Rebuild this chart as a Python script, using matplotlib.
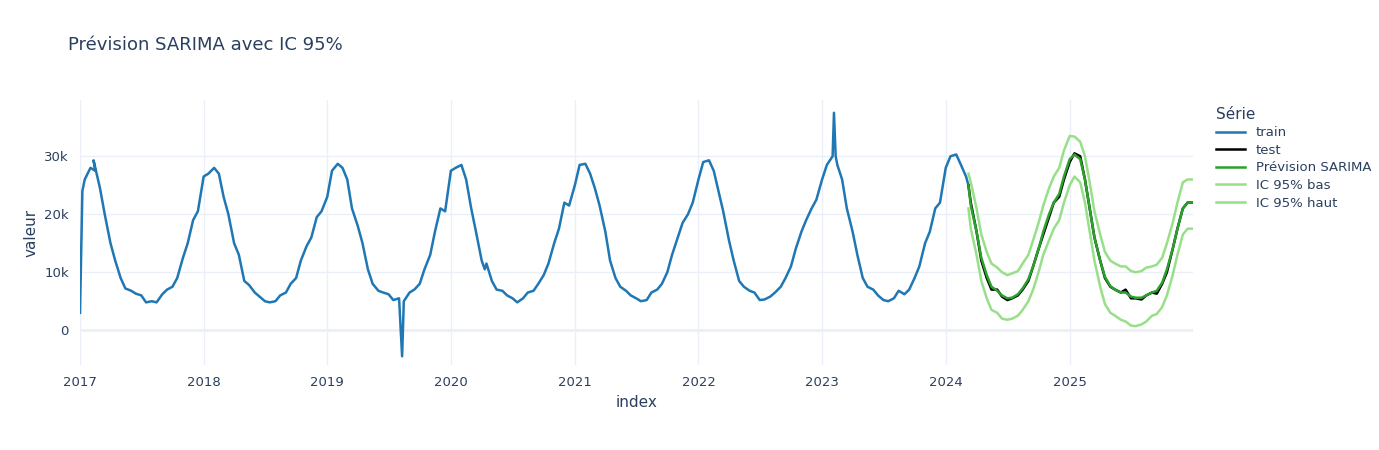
import matplotlib
matplotlib.use("Agg")
import matplotlib.pyplot as plt
import matplotlib.dates as mdates
import pandas as pd
from matplotlib.ticker import FuncFormatter

semi = ["01-01","01-15","02-01","02-15","03-01","03-15","04-01","04-15","05-01","05-15","06-01","06-15",
        "07-01","07-15","08-01","08-15","09-01","09-15","10-01","10-15","11-01","11-15","12-01","12-15"]

train_dates = (["2017-01-01","2017-01-08"] + ["2017-"+d for d in semi[1:4]] + ["2017-02-10"] + ["2017-"+d for d in semi[4:]]
    + ["2018-"+d for d in semi]
    + ["2019-"+d for d in semi[:15]] + ["2019-08-10"] + ["2019-"+d for d in semi[15:]]
    + ["2020-"+d for d in semi[:7]] + ["2020-04-10"] + ["2020-"+d for d in semi[7:]]
    + ["2021-"+d for d in semi]
    + ["2022-"+d for d in semi]
    + ["2023-"+d for d in semi[:2]] + ["2023-02-01","2023-02-05","2023-02-10"] + ["2023-"+d for d in semi[3:]]
    + ["2024-"+d for d in semi[:5]] + ["2024-03-08"])
train_vals = ([3000,24000,26000,28000,27500,29300,24500,20000,15000,12000,9000,7200,6800,6300,6000,4800,5000,4800,6200,7000,7500,9000,12500,15000,19000,20500]
    + [26500,27000,28000,27000,23000,20000,15000,13000,8500,7800,6500,5800,5000,4800,5000,6000,6500,8000,9000,12000,14500,16000,19500,20500]
    + [23000,27500,28700,28000,26000,21000,18000,15000,10500,8000,6800,6500,6200,5200,5500,-4500,5000,6500,7000,8000,10500,13000,17000,21000,20500]
    + [27500,28000,28500,26000,21000,17000,12000,10500,11500,8500,7000,6800,6000,5500,4800,5500,6500,6800,8000,9500,11500,15000,17500,22000,21500]
    + [25000,28500,28700,27000,24500,21500,17000,12000,9000,7500,6800,6000,5500,5000,5200,6500,7000,8000,10000,13000,16000,18500,20000,22000]
    + [26000,29000,29300,27500,24000,20500,15500,12000,8500,7500,6800,6500,5200,5300,5800,6500,7500,9000,11000,14000,17000,19000,21000,22500]
    + [26000,28500,30000,37500,30000,28500,26000,21000,17000,13000,9000,7500,7000,6000,5200,5000,5500,6800,6200,7000,9000,11000,15000,17000,21000,22000]
    + [28000,30000,30300,28500,26500,25000])

test_dates = (["2024-03-08"] + ["2024-"+d for d in semi[5:]] + ["2025-"+d for d in semi] + ["2025-12-31"])
test_vals = [25000,22000,17000,12000,9000,7000,7000,5800,5200,5500,6000,7000,8500,11000,14000,16500,19500,22000,23000,
             26000,29000,30500,30000,26000,21000,16000,12000,9000,7500,7000,6500,7000,5500,5500,5300,6000,6500,6300,8000,10000,14000,17500,21000,22000,22000]
fc_vals = [25000,21500,17000,12500,9500,7500,6800,6000,5500,5600,6200,7200,8800,11000,14000,17000,20000,22000,23500,
           26500,29500,30300,29500,26000,21000,16000,12000,9200,7600,7000,6500,6500,5800,5600,5600,6000,6500,6800,8200,10500,14000,17500,21000,22000,22000]
lo_vals = [21000,17500,13000,8500,5500,3500,3000,2000,1800,2000,2500,3500,5000,7000,10000,13000,15500,17500,19000,
           22000,25000,26500,25500,22000,17000,12000,7500,4500,3000,2500,1800,1500,800,700,1000,1500,2500,2800,4000,6000,9500,13000,16500,17500,17500]
hi_vals = [27000,25500,21000,16500,13500,11500,10800,10000,9500,9800,10200,11500,13000,15500,18500,21500,24500,26500,28000,
           31000,33500,33400,32500,30000,25500,20500,16500,13500,12000,11500,11000,11000,10200,10000,10200,10800,11000,11300,12500,15000,18500,22000,25500,26000,26000]

train = pd.Series(train_vals, index=pd.to_datetime(train_dates))
tidx = pd.to_datetime(test_dates)

fig = plt.figure(figsize=(13.79, 4.5), dpi=100)
ax = fig.add_axes([80/1379, 1-365/450, (1193-80)/1379, 265/450])
grid = "#EBF0F8"
ax.grid(True, color=grid, lw=1)
ax.set_axisbelow(True)
for s in ax.spines.values():
    s.set_visible(False)
ax.axhline(0, color=grid, lw=2, zorder=0)

ax.plot(train.index, train.values, color="#1f77b4", lw=1.8, label="train")
ax.plot(tidx, test_vals, color="black", lw=1.8, label="test")
ax.plot(tidx, fc_vals, color="#2ca02c", lw=1.8, label="Prévision SARIMA")
ax.plot(tidx, lo_vals, color="#98df8a", lw=1.8, label="IC 95% bas")
ax.plot(tidx, hi_vals, color="#98df8a", lw=1.8, label="IC 95% haut")

ax.set_xlim(pd.Timestamp("2017-01-01"), pd.Timestamp("2025-12-31"))
ax.set_ylim(-6000, 39700)
ax.set_yticks([0, 10000, 20000, 30000])
ax.yaxis.set_major_formatter(FuncFormatter(lambda v, p: "0" if v == 0 else f"{int(v/1000)}k"))
ax.xaxis.set_major_locator(mdates.YearLocator())
ax.xaxis.set_major_formatter(mdates.DateFormatter("%Y"))
tc = "#2a3f5f"
ax.tick_params(length=0, labelsize=9.5, colors=tc, pad=8)
ax.set_xlabel("index", color=tc, fontsize=11)
ax.set_ylabel("valeur", color=tc, fontsize=11)
fig.text(68/1379, 1-45/450, "Prévision SARIMA avec IC 95%", fontsize=13, color=tc, va="center")
leg = ax.legend(title="Série", loc="upper left", bbox_to_anchor=(1.01, 1.02), frameon=False,
                fontsize=9.5, title_fontsize=11, handlelength=2.2, labelspacing=0.35, alignment="left")
for t in leg.get_texts():
    t.set_color(tc)
leg.get_title().set_color(tc)
fig.savefig("out.png", dpi=100)
